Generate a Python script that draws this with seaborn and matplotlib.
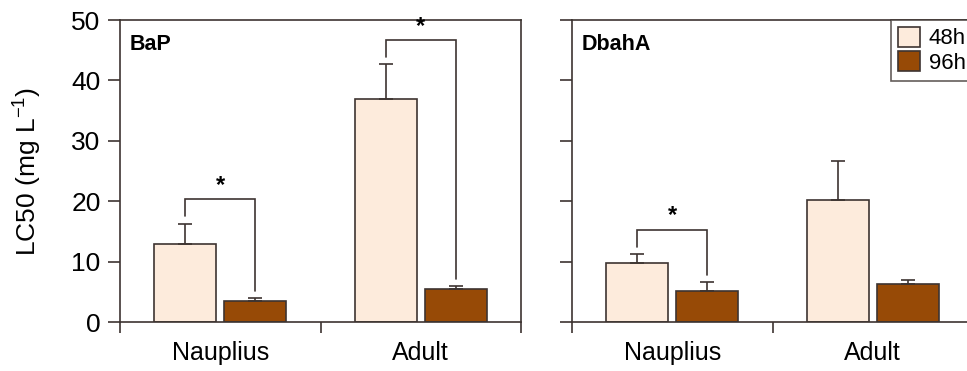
import numpy as np
import pandas as pd
import matplotlib
import matplotlib.pyplot as plt
import seaborn as sns
from matplotlib.patches import Patch

matplotlib.use('Agg')

sns.set_style("ticks")
plt.rcParams['font.family'] = ['Liberation Sans', 'DejaVu Sans']
plt.rcParams['text.color'] = 'black'
plt.rcParams['axes.labelcolor'] = 'black'

# data (LC50, mg/L)
compounds = ['BaP', 'DbahA']
stages = ['Nauplius', 'Adult']
times = ['48h', '96h']
bap_48 = [12.9, 37.0]
bap_96 = [3.5, 5.4]
bap_48_err = [3.4, 5.7]
bap_96_err = [0.4, 0.6]
dbaha_48 = [9.7, 20.2]
dbaha_96 = [5.1, 6.3]
dbaha_48_err = [1.6, 6.4]
dbaha_96_err = [1.5, 0.7]
# significant 48h vs 96h differences (compound, stage)
signif = [('BaP', 'Nauplius'), ('BaP', 'Adult'), ('DbahA', 'Nauplius')]

colors = {'48h': '#FDEBDC', '96h': '#974A06'}
dark = '#3d3431'

rows = []
for comp, v48, v96, e48, e96 in [('BaP', bap_48, bap_96, bap_48_err, bap_96_err),
                                 ('DbahA', dbaha_48, dbaha_96, dbaha_48_err, dbaha_96_err)]:
    for i, st in enumerate(stages):
        rows.append(dict(compound=comp, stage=st, time='48h', lc50=v48[i], err=e48[i]))
        rows.append(dict(compound=comp, stage=st, time='96h', lc50=v96[i], err=e96[i]))
df = pd.DataFrame(rows)

fig = plt.figure(figsize=(9.67, 3.71), dpi=100)
W, H = 967, 371
ax1 = fig.add_axes([120 / W, 49 / H, 401 / W, 302 / H])
ax2 = fig.add_axes([572 / W, 49 / H, 401 / W, 302 / H])

for ax, comp in zip([ax1, ax2], compounds):
    sub = df[df.compound == comp]
    sns.barplot(data=sub, x='stage', y='lc50', hue='time', order=stages,
                hue_order=times, palette=colors, saturation=1, width=0.7,
                gap=0.12, edgecolor=dark, linewidth=1.2, errorbar=None,
                legend=False, ax=ax)
    # one-sided error bars
    tops = {}
    for t, cont in zip(times, ax.containers):
        for st, bar in zip(stages, cont):
            row = sub[(sub.stage == st) & (sub.time == t)].iloc[0]
            xc = bar.get_x() + bar.get_width() / 2
            ax.errorbar(xc, row.lc50, yerr=[[0], [row.err]], fmt='none',
                        ecolor=dark, elinewidth=1.2, capsize=5, capthick=1.2,
                        zorder=1)
            tops[(st, t)] = (xc, row.lc50 + row.err)
    # significance brackets
    for c, st in signif:
        if c != comp:
            continue
        (x1, y1), (x2, y2) = tops[(st, '48h')], tops[(st, '96h')]
        ytop = max(y1, y2) + 4
        ax.plot([x1, x1, x2, x2], [y1 + 1.2, ytop, ytop, y2 + 1.2],
                color=dark, lw=1.2, solid_joinstyle='miter')
        ax.text((x1 + x2) / 2, ytop + 0.4, '*', ha='center', va='bottom',
                fontsize=17, fontweight='bold', color='black')

    ax.set_xlim(-0.5, 1.5)
    ax.set_ylim(0, 50)
    ax.set_yticks([0, 10, 20, 30, 40, 50])
    ax.set_xticks([-0.5, 0.5, 1.5], minor=True)
    ax.tick_params(axis='x', which='major', length=0, labelsize=18, pad=14,
                   labelcolor='black')
    ax.tick_params(axis='x', which='minor', length=8, width=1.2, color=dark,
                   direction='out')
    ax.tick_params(axis='y', length=9, width=1.2, color=dark, direction='out',
                   labelsize=19, pad=5, labelcolor='black')
    for s in ax.spines.values():
        s.set_color(dark)
        s.set_linewidth(1.2)
    ax.set_xlabel('')
    ax.text(0.025, 0.955, comp, transform=ax.transAxes, ha='left', va='top',
            fontsize=15.5, fontweight='bold', color='black')

ax1.set_ylabel('LC50 (mg L$^{\\mathregular{-1}}$)', fontsize=19, labelpad=20)
ax2.set_ylabel('')
ax2.tick_params(axis='y', labelleft=False)

handles = [Patch(facecolor=colors[t], edgecolor=dark, linewidth=1.2, label=t)
           for t in times]
leg = ax2.legend(handles=handles, loc='upper left', bbox_to_anchor=(0.796, 1.0),
                 borderaxespad=0, fontsize=16, frameon=True, fancybox=False,
                 handlelength=1.0, handleheight=1.0, handletextpad=0.4,
                 labelspacing=0.1, borderpad=0.3)
leg.get_frame().set_edgecolor(dark)
leg.get_frame().set_linewidth(1.2)

fig.savefig('out.png', dpi=100)
